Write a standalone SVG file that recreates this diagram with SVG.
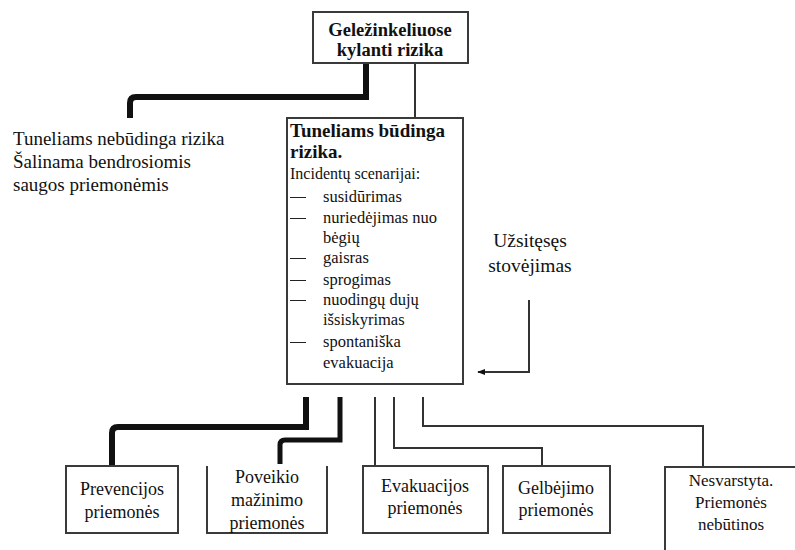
<svg xmlns="http://www.w3.org/2000/svg" width="795" height="550" viewBox="0 0 795 550" font-family="'Liberation Serif', 'Times New Roman', serif">
<defs>
<style>
text{font-family:'Liberation Serif','Times New Roman',serif;fill:#111}
.b{font-weight:bold}
.box{fill:#fff;stroke:#3a3a3a;stroke-width:2}
.open{fill:none;stroke:#3a3a3a;stroke-width:2}
.thick{fill:none;stroke:#111;stroke-width:6}
.med{fill:none;stroke:#111;stroke-width:5}
.thin{fill:none;stroke:#333;stroke-width:2}
.c{text-anchor:middle}
</style>
<marker id="ah" viewBox="0 0 10 10" refX="9" refY="5" markerWidth="8" markerHeight="8" orient="auto-start-reverse" markerUnits="userSpaceOnUse">
<path d="M0,1 L10,5 L0,9 z" fill="#111"/>
</marker>
</defs>
<rect width="795" height="550" fill="#fff"/>

<g id="connectors">
<path class="thick" d="M366,63 V97 H136 Q130,97 130,103 V118"/>
<path class="thin" d="M415,63 V118"/>
<path class="thin" stroke-width="2.5" d="M529,300 V372 H478" marker-end="url(#ah)"/>
<path class="thick" d="M306,397 V427 H118 Q112,427 112,433 V466"/>
<path class="med" d="M340,397 V440 H285 Q280,440 280,445 V464"/>
<path class="thin" d="M375,397 V466"/>
<path class="thin" d="M394,397 V448 H542 V466"/>
<path class="thin" d="M423,397 V426 H703 V467"/>
</g>

<g id="top">
<rect class="box" x="313" y="12" width="155" height="51"/>
<text class="b c" x="390" y="36" font-size="18.5">Geležinkeliuose</text>
<text class="b c" x="390" y="56" font-size="18.5">kylanti rizika</text>
</g>

<g id="nebudinga">
<text x="13" y="145" font-size="19">Tuneliams nebūdinga rizika</text>
<text x="13" y="168" font-size="19">Šalinama bendrosiomis</text>
<text x="13" y="191" font-size="19">saugos priemonėmis</text>
</g>

<g id="budinga">
<rect class="box" x="287" y="118" width="176" height="266"/>
<text class="b" x="290" y="137" font-size="19">Tuneliams būdinga</text>
<text class="b" x="290" y="158" font-size="19">rizika.</text>
<text x="290" y="179" font-size="16">Incidentų scenarijai:</text>
<g stroke="#222" stroke-width="1">
<path d="M290,197.5 H306 M290,218.5 H306 M290,258.5 H306 M290,280.5 H306 M290,300.5 H306 M290,342.5 H306"/>
</g>
<g font-size="16.5">
<text x="323" y="202">susidūrimas</text>
<text x="323" y="223">nuriedėjimas nuo</text>
<text x="323" y="243">bėgių</text>
<text x="323" y="263">gaisras</text>
<text x="323" y="285">sprogimas</text>
<text x="323" y="305">nuodingų dujų</text>
<text x="323" y="325">išsiskyrimas</text>
<text x="323" y="347">spontaniška</text>
<text x="323" y="368">evakuacija</text>
</g>
</g>

<g id="stovejimas">
<text class="c" x="530" y="247" font-size="19.5">Užsitęsęs</text>
<text class="c" x="530" y="272" font-size="19.5">stovėjimas</text>
</g>

<g id="prevencijos">
<rect class="box" x="66" y="466" width="112" height="67"/>
<text class="c" x="122" y="495" font-size="18">Prevencijos</text>
<text class="c" x="122" y="518" font-size="18">priemonės</text>
</g>

<g id="poveikio">
<path class="open" d="M207,466 V533 H327 V466"/>
<text class="c" x="267" y="483" font-size="18">Poveikio</text>
<text class="c" x="267" y="506" font-size="18">mažinimo</text>
<text class="c" x="267" y="529" font-size="18">priemonės</text>
</g>

<g id="evakuacijos">
<rect class="box" x="363" y="466" width="125" height="67"/>
<text class="c" x="425" y="492" font-size="18">Evakuacijos</text>
<text class="c" x="425" y="514" font-size="18">priemonės</text>
</g>

<g id="gelbejimo">
<rect class="box" x="503" y="466" width="107" height="67"/>
<text class="c" x="556" y="494" font-size="18">Gelbėjimo</text>
<text class="c" x="556" y="516" font-size="18">priemonės</text>
</g>

<g id="nesvarstyta">
<path class="open" d="M665,550 V467 H795"/>
<text class="c" x="731" y="486" font-size="17">Nesvarstyta.</text>
<text class="c" x="731" y="508" font-size="17">Priemonės</text>
<text class="c" x="731" y="530" font-size="17">nebūtinos</text>
</g>
</svg>
